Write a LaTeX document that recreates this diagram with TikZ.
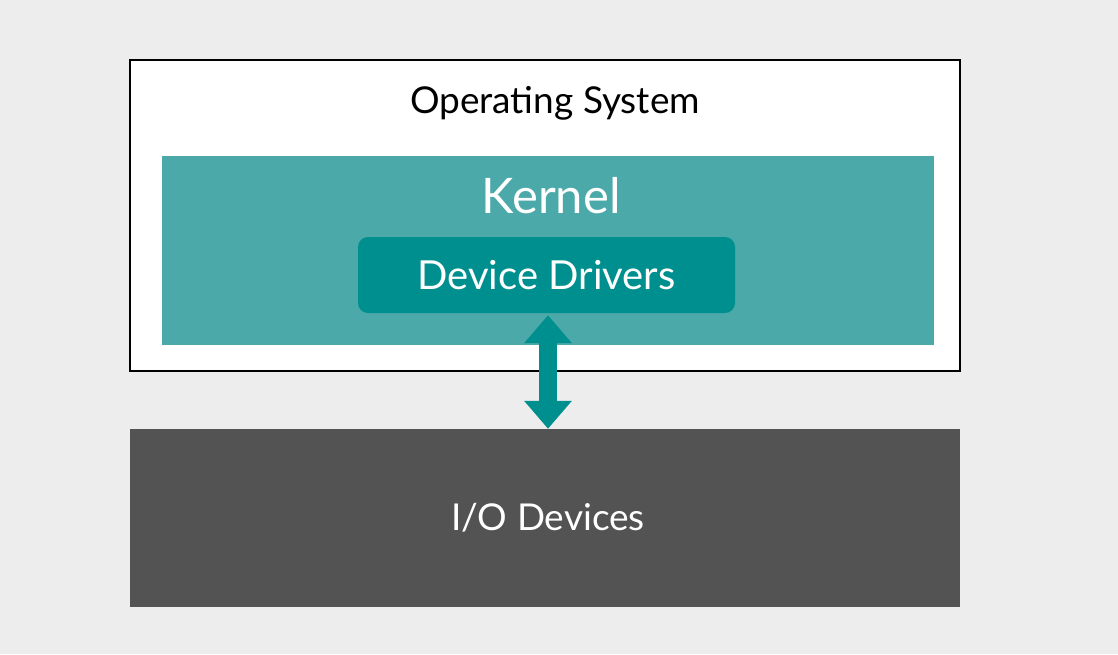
\documentclass[tikz,border=0pt]{standalone}
\usepackage{fontspec}
\setmainfont{Lato}
\usetikzlibrary{arrows.meta,positioning}

\definecolor{bggray}{HTML}{EDEDED}
\definecolor{kernelteal}{HTML}{4BA9A9}
\definecolor{driverteal}{HTML}{008F8F}
\definecolor{iogray}{HTML}{535353}

\begin{document}
\begin{tikzpicture}[x=1pt, y=-1pt, box/.style={
% The shape:
rectangle,
% The size:
inner sep=0pt,
% The border:
draw=none
}, every node/.style={font=\fontsize{37}{44}\selectfont}]

	\useasboundingbox[fill=bggray] (0,0) rectangle (1118,654);

	\node (OS) [box, draw=black, line width=2pt, fill=white, minimum width=830pt, minimum height=311pt] at (545,215.5) {};
	\node (OSlabel) at (555,103) {Operating System};

	\node (K) [box, fill=kernelteal, minimum width=772pt, minimum height=189pt] at (548,250.5) {};
	\node (Klabel) [text=white, font=\fontsize{49}{56}\selectfont] at (551,196) {Kernel};

	\node (DD) [box, fill=driverteal, rounded corners=10pt, minimum width=377pt, minimum height=76pt, text=white, font=\fontsize{40}{46}\selectfont] at (546.5,275) {Device Drivers};

	\node (IO) [box, fill=iogray, minimum width=830pt, minimum height=178pt] at (545,518) {};
	\node (IOlabel) [text=white] at (548,518) {I/O Devices};

	\draw [driverteal, line width=18pt, {Triangle[width=46pt,length=28pt]}-{Triangle[width=46pt,length=28pt]}] ([xshift=1.5pt,yshift=-2pt]DD.south) -- ([xshift=3pt]IO.north);
\end{tikzpicture}
\end{document}
